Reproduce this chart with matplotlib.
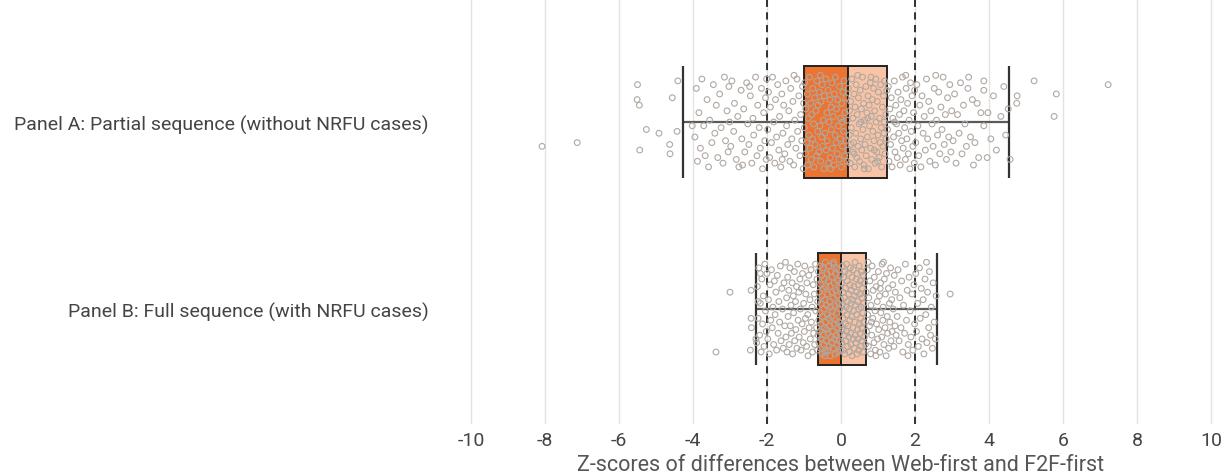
import matplotlib
matplotlib.use("Agg")
import matplotlib.pyplot as plt

# ---------------- data ----------------
categories = ["Panel A: Partial sequence (without NRFU cases)",
              "Panel B: Full sequence (with NRFU cases)"]
whisker_low = [-4.28, -2.31]
q1 = [-0.99, -0.62]
median = [0.19, 0.01]
q3 = [1.25, 0.67]
whisker_high = [4.53, 2.59]
x_ticks = [-10, -8, -6, -4, -2, 0, 2, 4, 6, 8, 10]
ref_lines = [-2, 2]
x_label = "Z-scores of differences between Web-first and F2F-first"

# (z-score, vertical jitter) pairs
panel_a_points = [
    (-8.08,0.13),(-7.13,0.11),(-5.50,-0.20),(-5.51,-0.12),(-5.45,-0.09),(-5.26,0.04),(-4.92,0.06),
    (-4.43,0.05),(-4.63,0.12),(-4.62,0.17),(-5.44,0.15),(-4.41,-0.22),(-4.56,-0.13),(-4.02,0.02),
    (-3.95,0.08),(-3.91,-0.18),(-3.88,0.21),(-3.84,-0.05),(-3.80,0.14),(-3.76,-0.23),(-3.71,0.02),
    (-3.67,0.18),(-3.62,-0.12),(-3.58,0.24),(-3.55,-0.01),(-3.49,0.11),(-3.45,-0.20),(-3.41,0.06),
    (-3.37,-0.09),(-3.33,0.19),(-3.28,-0.15),(-3.24,0.03),(-3.19,0.22),(-3.15,-0.24),(-3.12,0.10),
    (-3.08,-0.06),(-3.05,0.16),(-3.03,-0.19),(-3.01,0.00),
    (-2.98,0.13),(-2.95,-0.22),(-2.90,0.05),(-2.88,-0.10),(-2.83,0.20),(-2.79,-0.03),(-2.76,0.24),
    (-2.70,-0.17),(-2.68,0.09),(-2.63,-0.07),(-2.60,0.16),(-2.55,-0.21),(-2.52,0.01),(-2.49,0.12),
    (-2.45,-0.14),(-2.41,0.22),(-2.38,-0.02),(-2.36,0.07),(-2.31,-0.24),(-2.27,0.18),(-2.25,-0.09),
    (-2.21,0.03),(-2.18,0.14),(-2.15,-0.18),(-2.12,0.25),(-2.09,-0.05),(-2.06,0.10),(-2.04,-0.13),
    (-2.02,0.20),(-2.01,-0.23),(-2.66,0.23),(-2.47,-0.19),
    (-1.98,0.04),(-1.96,-0.16),(-1.93,0.19),(-1.91,-0.08),(-1.88,0.11),(-1.85,-0.24),(-1.82,0.00),
    (-1.79,0.22),(-1.77,-0.12),(-1.74,0.08),(-1.71,-0.20),(-1.68,0.15),(-1.66,-0.03),(-1.63,0.24),
    (-1.60,-0.15),(-1.57,0.06),(-1.55,-0.09),(-1.52,0.17),(-1.49,-0.22),(-1.47,0.02),(-1.44,0.12),
    (-1.41,-0.06),(-1.38,0.21),(-1.36,-0.18),(-1.33,0.09),(-1.30,-0.11),(-1.28,0.23),(-1.25,-0.01),
    (-1.22,0.14),(-1.19,-0.23),(-1.17,0.05),(-1.14,-0.14),(-1.11,0.18),(-1.09,-0.04),(-1.06,0.10),
    (-1.04,-0.19),(-1.02,0.25),(-1.01,-0.10),(-1.59,0.20),(-1.27,-0.25),
    (-0.99,0.03),(-0.98,-0.21),(-0.96,0.17),(-0.95,-0.07),(-0.93,0.11),(-0.91,-0.15),(-0.90,0.23),
    (-0.88,-0.02),(-0.87,0.07),(-0.85,-0.24),(-0.84,0.14),(-0.82,-0.10),(-0.80,0.20),(-0.79,-0.04),
    (-0.77,0.09),(-0.76,-0.18),(-0.74,0.01),(-0.73,0.24),(-0.71,-0.13),(-0.70,0.12),(-0.68,-0.06),
    (-0.66,0.18),(-0.65,-0.22),(-0.63,0.05),(-0.62,-0.09),(-0.60,0.16),(-0.59,-0.16),(-0.57,0.02),
    (-0.55,0.21),(-0.54,-0.11),(-0.52,0.08),(-0.51,-0.20),(-0.49,0.13),(-0.48,-0.01),(-0.46,0.25),
    (-0.45,-0.14),(-0.43,0.06),(-0.41,-0.23),(-0.40,0.15),(-0.38,-0.05),(-0.37,0.10),(-0.35,-0.17),
    (-0.34,0.22),(-0.32,0.00),(-0.30,-0.12),(-0.29,0.19),(-0.27,-0.08),(-0.26,0.04),(-0.24,-0.21),
    (-0.23,0.14),(-0.21,-0.03),(-0.19,0.23),(-0.18,-0.15),(-0.16,0.07),(-0.15,-0.24),(-0.13,0.11),
    (-0.12,-0.07),(-0.10,0.17),(-0.09,-0.12),(-0.07,0.02),(-0.05,0.20),(-0.04,-0.19),(-0.02,0.09),
    (-0.01,-0.02),(0.01,0.24),(0.02,-0.10),(0.04,0.13),(0.05,-0.16),(0.07,0.05),(0.08,-0.22),
    (0.10,0.18),(0.11,-0.05),(0.13,0.10),(0.14,-0.13),(0.16,0.21),(0.17,-0.01),(0.18,0.15),
    (-0.56,-0.25),(-0.28,0.25),(0.03,0.00),
    (0.20,-0.18),(0.22,0.07),(0.23,-0.06),(0.25,0.22),(0.26,-0.11),(0.28,0.03),(0.29,-0.23),
    (0.31,0.16),(0.32,-0.02),(0.34,0.11),(0.35,-0.15),(0.37,0.24),(0.38,-0.08),(0.40,0.06),
    (0.41,-0.20),(0.43,0.19),(0.44,-0.04),(0.46,0.13),(0.47,-0.13),(0.49,0.01),(0.50,0.21),
    (0.52,-0.17),(0.53,0.09),(0.55,-0.07),(0.56,0.15),(0.58,-0.24),(0.59,0.04),(0.61,-0.10),
    (0.62,0.23),(0.64,-0.01),(0.65,0.12),(0.67,-0.19),(0.68,0.18),(0.70,-0.05),(0.71,0.08),
    (0.73,-0.14),(0.74,0.25),(0.76,-0.09),(0.77,0.02),(0.79,-0.21),(0.80,0.14),(0.82,-0.03),
    (0.83,0.20),(0.85,-0.12),(0.86,0.05),(0.88,-0.18),(0.89,0.10),(0.91,-0.06),(0.92,0.22),
    (0.94,-0.23),(0.95,0.00),(0.97,0.16),(0.98,-0.11),(1.00,0.07),(1.01,-0.16),(1.03,0.19),
    (1.04,-0.02),(1.06,0.11),(1.07,-0.20),(1.09,0.03),(1.10,0.24),(1.12,-0.08),(1.13,0.13),
    (1.15,-0.14),(1.16,0.06),(1.18,-0.22),(1.19,0.17),(1.21,-0.04),(1.22,0.09),(1.24,-0.17),
    (0.27,0.12),(0.45,-0.25),(0.63,0.25),(0.81,-0.24),(0.99,0.21),(1.17,0.00),(0.36,0.17),
    (0.54,0.00),(0.72,-0.02),(0.90,0.15),
    (1.26,0.04),(1.28,-0.19),(1.30,0.21),(1.32,-0.07),(1.34,0.12),(1.36,-0.13),(1.38,0.24),
    (1.40,-0.02),(1.42,0.08),(1.44,-0.22),(1.46,0.16),(1.48,-0.09),(1.50,0.01),(1.52,0.19),
    (1.54,-0.16),(1.56,0.06),(1.58,-0.04),(1.60,0.23),(1.62,-0.12),(1.64,0.10),(1.66,-0.24),
    (1.68,0.14),(1.70,-0.06),(1.72,0.03),(1.74,0.20),(1.76,-0.18),(1.78,0.09),(1.80,-0.10),
    (1.82,0.17),(1.84,-0.01),(1.86,0.25),(1.88,-0.21),(1.90,0.05),(1.92,-0.14),(1.94,0.13),
    (1.96,-0.05),(1.98,0.22),(1.99,-0.17),(1.45,0.00),(1.75,-0.25),
    (2.02,0.11),(2.05,-0.20),(2.08,0.02),(2.10,0.18),(2.13,-0.09),(2.16,0.24),(2.19,-0.14),
    (2.22,0.06),(2.25,-0.03),(2.28,0.15),(2.31,-0.23),(2.34,0.09),(2.37,-0.11),(2.40,0.21),
    (2.43,-0.06),(2.46,0.01),(2.49,0.13),(2.52,-0.18),(2.55,0.23),(2.58,-0.01),(2.61,0.07),
    (2.64,-0.16),(2.67,0.17),(2.70,-0.08),(2.73,0.04),(2.76,-0.24),(2.79,0.12),(2.82,-0.04),
    (2.85,0.20),(2.88,-0.13),(2.91,0.08),(2.94,-0.20),(2.97,0.16),(2.99,-0.06),(2.56,-0.25),
    (3.03,0.10),(3.07,-0.15),(3.11,0.22),(3.15,-0.04),(3.19,0.06),(3.23,-0.21),(3.27,0.17),
    (3.31,-0.09),(3.35,0.01),(3.39,0.13),(3.43,-0.18),(3.45,-0.24),(3.50,0.08),(3.55,-0.12),
    (3.62,0.11),(3.68,-0.10),(3.72,0.19),(3.78,-0.05),(3.86,-0.22),(3.86,-0.17),(3.86,0.02),
    (3.95,0.19),(3.97,-0.05),(4.05,0.09),(4.12,-0.14),(4.20,0.15),(4.32,-0.03),(4.40,-0.19),
    (4.45,0.07),(3.58,0.23),
    (5.22,-0.22),(7.22,-0.20),(5.82,-0.15),(5.76,-0.03),(4.76,-0.14),(4.75,-0.10),(4.57,0.20),
    (4.52,-0.07),
]

panel_b_points = [
    (-3.38,0.23),(-3.00,-0.09),(2.95,-0.08),(-2.43,-0.10),(-2.45,0.22),(-2.43,0.05),(-2.42,0.10),
    (-2.30,0.16),(-2.18,-0.19),(-2.24,-0.04),
    (-2.28,0.18),(-2.26,-0.12),(-2.24,0.05),(-2.22,-0.22),(-2.20,0.14),(-2.18,-0.03),(-2.16,0.23),
    (-2.14,-0.16),(-2.12,0.08),(-2.10,-0.07),(-2.08,0.20),(-2.06,-0.24),(-2.04,0.01),(-2.02,0.12),
    (-2.00,-0.19),(-1.98,0.16),(-1.96,-0.05),(-1.94,0.24),(-1.92,-0.13),(-1.90,0.06),(-1.88,-0.21),
    (-1.86,0.10),(-1.84,-0.01),(-1.82,0.19),(-1.80,-0.15),(-1.78,0.03),(-1.76,-0.09),(-1.74,0.22),
    (-1.72,-0.18),(-1.70,0.13),(-1.68,-0.04),(-1.66,0.07),(-1.64,-0.23),(-1.62,0.17),(-1.60,-0.11),
    (-1.58,0.00),(-1.56,0.21),(-1.54,-0.14),(-1.52,0.09),(-1.50,-0.25),
    (-1.49,0.15),(-1.47,-0.06),(-1.46,0.23),(-1.44,-0.17),(-1.43,0.04),(-1.41,-0.10),(-1.40,0.19),
    (-1.38,-0.22),(-1.37,0.09),(-1.35,-0.02),(-1.34,0.13),(-1.32,-0.14),(-1.31,0.24),(-1.29,-0.07),
    (-1.28,0.02),(-1.26,-0.20),(-1.25,0.17),(-1.23,-0.04),(-1.22,0.11),(-1.20,-0.12),(-1.19,0.21),
    (-1.17,-0.24),(-1.16,0.06),(-1.14,-0.09),(-1.13,0.15),(-1.11,-0.16),(-1.10,0.00),(-1.08,0.22),
    (-1.07,-0.11),(-1.05,0.08),(-1.04,-0.19),(-1.02,0.18),(-1.01,-0.03),(-0.99,0.12),(-0.98,-0.23),
    (-0.96,0.05),(-0.95,-0.08),(-0.93,0.20),(-0.92,-0.14),(-0.90,0.03),(-0.89,0.25),(-0.87,-0.18),
    (-0.86,0.10),(-0.84,-0.05),(-0.83,0.16),(-0.81,-0.21),(-0.80,0.07),(-0.78,-0.01),(-0.77,0.23),
    (-0.75,-0.13),(-0.74,0.13),(-0.72,-0.08),(-0.71,0.19),(-0.69,-0.24),(-0.68,0.01),(-0.66,0.10),
    (-0.65,-0.16),(-0.64,0.22),(-0.63,-0.04),(-0.62,0.14),
    (-0.61,-0.20),(-0.60,0.06),(-0.60,0.18),(-0.59,-0.09),(-0.58,0.12),(-0.57,-0.23),(-0.57,0.02),
    (-0.56,0.21),(-0.55,-0.13),(-0.54,0.08),(-0.54,-0.03),(-0.53,0.16),(-0.52,-0.18),(-0.51,0.24),
    (-0.51,-0.07),(-0.50,0.04),(-0.49,-0.22),(-0.48,0.14),(-0.48,-0.11),(-0.47,0.19),(-0.46,0.00),
    (-0.45,-0.16),(-0.45,0.10),(-0.44,-0.05),(-0.43,0.23),(-0.42,-0.25),(-0.42,0.07),(-0.41,-0.12),
    (-0.40,0.17),(-0.39,-0.02),(-0.39,0.11),(-0.38,-0.19),(-0.37,0.03),(-0.36,0.22),(-0.36,-0.08),
    (-0.35,0.13),(-0.34,-0.15),(-0.33,0.05),(-0.33,-0.23),(-0.32,0.20),(-0.31,-0.04),(-0.30,0.09),
    (-0.30,-0.12),(-0.29,0.25),(-0.28,-0.01),(-0.27,0.15),(-0.27,-0.20),(-0.26,0.04),(-0.25,-0.09),
    (-0.24,0.18),(-0.24,-0.17),(-0.23,0.01),(-0.22,0.12),(-0.21,-0.24),(-0.21,0.21),(-0.20,-0.06),
    (-0.19,0.08),(-0.18,-0.14),(-0.18,0.16),(-0.17,-0.02),(-0.16,0.24),(-0.15,-0.19),(-0.15,0.06),
    (-0.14,-0.10),(-0.13,0.14),(-0.12,-0.22),(-0.12,0.02),(-0.11,0.19),(-0.10,-0.07),(-0.09,0.10),
    (-0.09,-0.15),(-0.08,0.23),(-0.07,-0.03),(-0.06,0.07),(-0.06,-0.21),(-0.05,0.17),(-0.04,-0.11),
    (-0.03,0.00),(-0.03,0.13),(-0.02,-0.18),(-0.01,0.22),(0.00,-0.05),(0.00,0.09),(-0.44,0.25),
    (-0.20,-0.25),
    (0.01,-0.14),(0.02,0.18),(0.03,-0.02),(0.03,0.11),(0.04,-0.23),(0.05,0.05),(0.06,-0.09),
    (0.06,0.22),(0.07,-0.17),(0.08,0.01),(0.09,0.14),(0.09,-0.06),(0.10,0.24),(0.11,-0.20),
    (0.12,0.08),(0.12,-0.11),(0.13,0.17),(0.14,-0.01),(0.15,0.12),(0.15,-0.24),(0.16,0.03),
    (0.17,-0.15),(0.18,0.20),(0.18,-0.04),(0.19,0.09),(0.20,-0.19),(0.21,0.15),(0.21,-0.08),
    (0.22,0.00),(0.23,0.23),(0.24,-0.13),(0.24,0.06),(0.25,-0.22),(0.26,0.13),(0.27,-0.03),
    (0.27,0.19),(0.28,-0.10),(0.29,0.04),(0.30,-0.17),(0.30,0.25),(0.31,-0.05),(0.32,0.10),
    (0.33,-0.21),(0.33,0.16),(0.34,0.01),(0.35,-0.12),(0.36,0.21),(0.36,-0.07),(0.37,0.07),
    (0.38,-0.25),(0.39,0.14),(0.39,-0.02),(0.40,0.18),(0.41,-0.16),(0.42,0.03),(0.42,-0.09),
    (0.43,0.24),(0.44,-0.19),(0.45,0.11),(0.45,-0.04),(0.46,0.16),(0.47,-0.13),(0.48,0.00),
    (0.48,0.22),(0.49,-0.23),(0.50,0.08),(0.51,-0.08),(0.51,0.13),(0.52,-0.15),(0.53,0.05),
    (0.54,0.20),(0.54,-0.01),(0.55,-0.20),(0.56,0.10),(0.57,-0.06),(0.57,0.17),(0.58,-0.11),
    (0.59,0.02),(0.60,0.23),(0.60,-0.18),(0.61,0.07),(0.62,-0.03),(0.63,0.15),(0.64,-0.14),
    (0.66,0.19),
    (0.68,-0.09),(0.69,0.12),(0.71,-0.21),(0.72,0.03),(0.74,0.20),(0.75,-0.06),(0.77,0.09),
    (0.78,-0.15),(0.80,0.24),(0.81,-0.02),(0.83,0.14),(0.84,-0.23),(0.86,0.05),(0.87,-0.10),
    (0.89,0.18),(0.90,-0.17),(0.92,0.01),(0.93,0.22),(0.95,-0.12),(0.96,0.08),(0.98,-0.04),
    (0.99,0.16),(1.01,-0.20),(1.02,0.11),(1.04,-0.07),(1.05,0.23),(1.07,-0.14),(1.08,0.02),
    (1.10,0.15),(1.11,-0.24),(1.13,0.06),(1.14,-0.01),(1.16,0.19),(1.17,-0.16),(1.19,0.10),
    (1.20,-0.08),(1.22,0.25),(1.23,-0.19),(1.25,0.04),(1.26,0.13),(1.28,-0.11),(1.29,0.21),
    (1.31,-0.03),(1.32,0.07),(1.34,-0.22),(1.35,0.17),(1.37,-0.05),(1.38,0.12),(1.40,-0.13),
    (1.41,0.00),(1.43,0.20),(1.44,-0.18),(1.46,0.09),(1.47,-0.09),(1.49,0.14),(0.73,-0.25),
    (0.94,0.25),(1.15,-0.25),(0.82,0.07),(1.06,-0.11),
    (1.52,0.04),(1.54,-0.21),(1.57,0.17),(1.59,-0.06),(1.62,0.10),(1.64,-0.15),(1.67,0.23),
    (1.69,-0.02),(1.72,0.13),(1.74,-0.24),(1.77,0.06),(1.79,-0.10),(1.82,0.19),(1.84,-0.17),
    (1.87,0.01),(1.89,0.15),(1.92,-0.08),(1.94,0.22),(1.97,-0.13),(1.99,0.08),(2.02,-0.19),
    (2.04,0.12),(2.07,-0.03),(2.09,0.20),(2.12,-0.22),(2.14,0.05),(2.17,-0.11),(2.19,0.16),
    (2.22,-0.05),(2.24,0.24),(2.27,-0.16),(2.29,0.03),(2.32,0.18),(2.34,-0.09),(2.37,0.10),
    (2.39,-0.20),(2.42,0.14),(2.44,-0.01),(2.47,0.21),(2.49,-0.14),(2.52,0.07),(2.55,0.16),
    (2.57,-0.07),(2.31,-0.25),(1.81,0.25),
]
panel_points = [panel_a_points, panel_b_points]

# ---------------- style ----------------
plt.rcParams['font.family'] = ['Roboto', 'DejaVu Sans']
dark_orange = "#EC7430"
light_orange = "#F8C4A5"
point_color = "#B0A8A2"
text_color = "#444444"

fig = plt.figure(figsize=(12.27, 4.77), dpi=100)
W, H = 1227, 477
left_px, right_px = 459.9, 1222.1
top_px, bottom_px = 0, 425
ax = fig.add_axes([left_px / W, 1 - bottom_px / H, (right_px - left_px) / W, (bottom_px - top_px) / H])

ax.set_xlim(-10.3, 10.3)
ax.set_ylim(1.615, -0.658)

for t in x_ticks:
    ax.axvline(t, color="#e2e2e2", lw=1.0, zorder=0)
for r in ref_lines:
    ax.axvline(r, color="#222222", lw=1.3, ls=(0, (4, 3)), zorder=1)

box_h = 0.6
for i in range(len(categories)):
    ax.hlines(i, whisker_low[i], whisker_high[i], color="#5a5a5a", lw=1.6, zorder=2)
    ax.vlines([whisker_low[i], whisker_high[i]], i - box_h / 2, i + box_h / 2,
              color="#333333", lw=1.6, zorder=2)
    ax.barh(i, median[i] - q1[i], left=q1[i], height=box_h, color=dark_orange,
            edgecolor="#222222", linewidth=1.4, zorder=2)
    ax.barh(i, q3[i] - median[i], left=median[i], height=box_h, color=light_orange,
            edgecolor="#222222", linewidth=1.4, zorder=2)
    xs = [p[0] for p in panel_points[i]]
    ys = [i + p[1] for p in panel_points[i]]
    ax.scatter(xs, ys, s=17, facecolors="none", edgecolors=point_color, linewidths=0.8, zorder=3)

ax.set_xticks(x_ticks)
ax.set_xticklabels([str(t) for t in x_ticks])
ax.set_yticks(range(len(categories)))
ax.set_yticklabels(categories)
ax.tick_params(axis='x', length=0, pad=5, labelsize=14, labelcolor=text_color)
ax.tick_params(axis='y', length=0, pad=22.5, labelsize=14, labelcolor=text_color)
ax.set_xlabel(x_label, fontsize=15.5, color="#555555", labelpad=4)
for s in ax.spines.values():
    s.set_visible(False)

fig.savefig("out.png", dpi=100)
